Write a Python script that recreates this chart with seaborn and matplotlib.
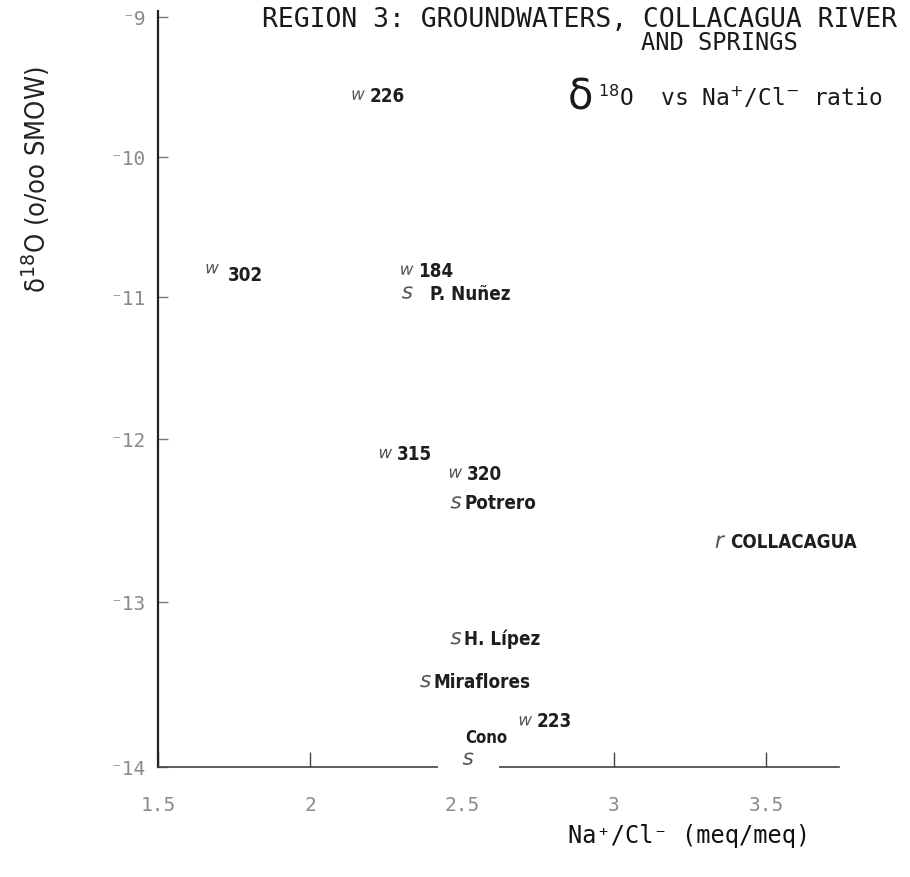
import matplotlib
matplotlib.use("Agg")
import matplotlib.pyplot as plt
import numpy as np
import pandas as pd
import seaborn as sns

# Na+/Cl- ratio (meq/meq) and delta 18O (o/oo SMOW) for Region 3 samples
names = ["226", "302", "184", "P. Nuñez", "315", "320", "Potrero",
         "COLLACAGUA", "H. Lípez", "Miraflores", "223", "Cono"]
kinds = ["groundwater", "groundwater", "groundwater", "spring", "groundwater",
         "groundwater", "spring", "river", "spring", "spring", "groundwater",
         "spring"]
na_cl = [2.16, 1.68, 2.32, 2.32, 2.25, 2.48, 2.48, 3.35, 2.48, 2.38, 2.71, 2.52]
d18o = [-9.56, -10.80, -10.81, -10.97, -12.09, -12.21, -12.39, -12.63,
        -13.22, -13.48, -13.72, -13.95]

x_ticks = [1.5, 2, 2.5, 3, 3.5]
x_tick_labels = ["1.5", "2", "2.5", "3", "3.5"]
y_ticks = [-9, -10, -11, -12, -13, -14]
y_tick_labels = ["\u207b9", "\u207b10", "\u207b11", "\u207b12", "\u207b13", "\u207b14"]

# the plotter's vertical axis is not evenly spaced: height of each whole
# per-mil step above the -14 baseline
axis_vals = np.array([-15.0, -14, -13, -12, -11, -10, -9, -8])
axis_pos = np.array([-165.0, 0, 165, 328, 470, 610, 750, 890])


def fwd(v):
    return np.interp(v, axis_vals, axis_pos)


def inv(p):
    return np.interp(p, axis_pos, axis_vals)


df = pd.DataFrame({"name": names, "kind": kinds, "ratio": na_cl, "d18o": d18o})

sns.set_theme(style="white")
plt.rcParams["font.family"] = ["DejaVu Sans"]

W, H = 910, 878
fig = plt.figure(figsize=(W / 100, H / 100), dpi=100)
ax = fig.add_axes([158 / W, 110 / H, 681 / W, 756 / H])
ax.set_yscale("function", functions=(fwd, inv))

sns.scatterplot(
    data=df, x="ratio", y="d18o", style="kind",
    markers={"groundwater": "$w$", "spring": "$s$", "river": "$r$"},
    color="#555555", s=80, linewidth=0, legend=False, ax=ax, zorder=5,
)

label_kw = dict(textcoords="offset points", family="DejaVu Sans",
                fontstretch="condensed", weight="bold", color="#1e1e1e",
                va="center")
offsets = {
    "226": (8, 0), "302": (11, -4), "184": (8, 0), "P. Nuñez": (16, -1),
    "315": (8, 0), "320": (8, 0), "Potrero": (6, 0), "COLLACAGUA": (7, 0),
    "H. Lípez": (6, 0), "Miraflores": (6, 0), "223": (8, 0),
}
for _, row in df.iterrows():
    xy = (row["ratio"], row["d18o"])
    if row["name"] == "Cono":
        # white gap in the baseline around the Cono spring
        ax.annotate("          ", xy, ha="center", va="center", fontsize=13,
                    bbox=dict(boxstyle="square,pad=0.1", fc="white", ec="none"),
                    annotation_clip=False, zorder=4)
        ax.annotate(row["name"], xy, xytext=(13, 16), ha="center",
                    annotation_clip=False, fontsize=12, **label_kw)
    else:
        ax.annotate(row["name"], xy, xytext=offsets[row["name"]], ha="left",
                    fontsize=13.5, **label_kw)

ax.set_xlim(1.5, 3.74)
ax.set_ylim(-14, -8.96)
ax.set_xticks(x_ticks)
ax.set_xticklabels(x_tick_labels, family="DejaVu Sans Mono", fontsize=14,
                   color="#8a8a8a")
ax.set_yticks(y_ticks)
ax.set_yticklabels(y_tick_labels, family="DejaVu Sans Mono", fontsize=14,
                   color="#8a8a8a")
ax.minorticks_off()
ax.tick_params(axis="x", direction="in", length=11, width=1, color="#444444",
               pad=20, bottom=True)
ax.tick_params(axis="y", direction="in", length=7, width=1, color="#777777",
               pad=9, left=True)

for side in ["top", "right"]:
    ax.spines[side].set_visible(False)
ax.spines["left"].set_color("#222222")
ax.spines["left"].set_linewidth(1.6)
ax.spines["bottom"].set_color("#444444")
ax.spines["bottom"].set_linewidth(1.2)
ax.spines["bottom"].set_linestyle((0, (2, 1)))

ax.set_xlabel("Na\u207a/Cl\u207b (meq/meq)", family="DejaVu Sans Mono",
              fontsize=17, color="#111111")
ax.xaxis.set_label_coords(0.78, -0.074)
ax.set_ylabel("")

# rotated y-axis title
fig.text(36 / W, 1 - 180 / H, "\u03b4$^{18}$O (o/oo SMOW)", rotation=90,
         ha="center", va="center", fontsize=19.5, family="DejaVu Sans",
         fontstretch="condensed", color="#222222")

# titles
mono = "DejaVu Sans Mono"
fig.text(262 / W, 1 - 20 / H, "REGION 3: GROUNDWATERS, COLLACAGUA RIVER",
         ha="left", va="center", fontsize=19, family=mono, color="#1a1a1a")
fig.text(719 / W, 1 - 43 / H, "AND SPRINGS", ha="center", va="center",
         fontsize=17, family=mono, color="#1a1a1a")
fig.text(568 / W, 1 - 97 / H, "\u03b4", ha="left", va="center",
         fontsize=30, family="DejaVu Sans", color="#1a1a1a")
fig.text(598 / W, 1 - 97 / H, "$^{18}$O  vs Na$^{+}$/Cl$^{-}$ ratio",
         ha="left", va="center", fontsize=16.5, family=mono, color="#1a1a1a")

fig.savefig("out.png", dpi=100, facecolor="white")
